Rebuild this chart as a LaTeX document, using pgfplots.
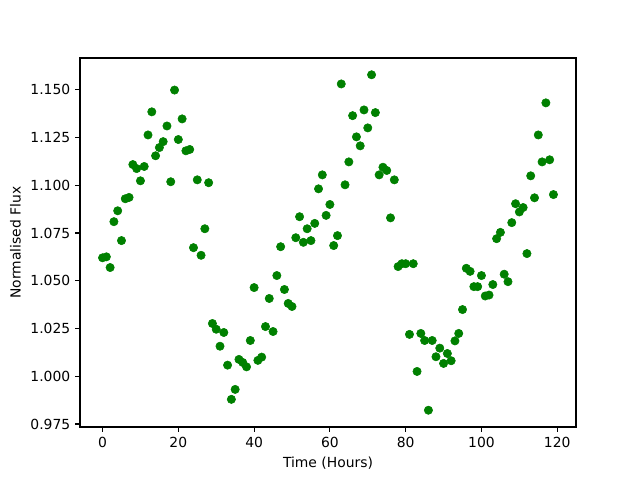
\documentclass[border=0pt]{standalone}
\usepackage{pgfplots}
\pgfplotsset{compat=1.18}
\usepackage{fontspec}
\setmainfont{DejaVu Sans}
\definecolor{mplgreen}{HTML}{008000}
\begin{document}
\begin{tikzpicture}
\begin{axis}[
  name=ax,
  scale only axis,
  width=357.12pt, height=265.68pt,
  xmin=-5.95, xmax=124.95,
  ymin=0.97342, ymax=1.16658,
  xtick={0,20,40,60,80,100,120},
  ytick={0.975,1.000,1.025,1.050,1.075,1.100,1.125,1.150},
  yticklabel style={/pgf/number format/.cd,fixed,fixed zerofill,precision=3},
  /pgf/number format/assume math mode=true,
  xtick pos=bottom, ytick pos=left,
  tick align=outside,
  major tick length=3.5pt,
  every tick/.style={black, line width=0.8pt},
  axis line style={line width=0.8pt},
  tick label style={font=\fontsize{10}{12}\selectfont},
  label style={font=\fontsize{10}{12}\selectfont},
  xlabel={Time (Hours)},
  ylabel={Normalised Flux},
  clip=false,
]
\addplot[only marks, mark=*, mark size=3pt, color=mplgreen, mark options={draw=mplgreen, fill=mplgreen}] table {
x y
0 1.0620
1 1.0625
2 1.0569
3 1.0809
4 1.0866
5 1.0710
6 1.0929
7 1.0936
8 1.1108
9 1.1087
10 1.1023
11 1.1098
12 1.1263
13 1.1384
14 1.1154
15 1.1197
16 1.1228
17 1.1310
18 1.1018
19 1.1498
20 1.1239
21 1.1347
22 1.1180
23 1.1187
24 1.0673
25 1.1028
26 1.0633
27 1.0772
28 1.1013
29 1.0276
30 1.0246
31 1.0157
32 1.0229
33 1.0058
34 0.9879
35 0.9931
36 1.0088
37 1.0072
38 1.0049
39 1.0187
40 1.0464
41 1.0083
42 1.0100
43 1.0260
44 1.0407
45 1.0234
46 1.0527
47 1.0678
48 1.0454
49 1.0381
50 1.0365
51 1.0725
52 1.0835
53 1.0701
54 1.0772
55 1.0710
56 1.0800
57 1.0981
58 1.1054
59 1.0842
60 1.0899
61 1.0684
62 1.0736
63 1.1530
64 1.1002
65 1.1122
66 1.1364
67 1.1253
68 1.1206
69 1.1394
70 1.1300
71 1.1578
72 1.1380
73 1.1054
74 1.1094
75 1.1077
76 1.0829
77 1.1028
78 1.0574
79 1.0589
80 1.0589
81 1.0219
82 1.0589
83 1.0025
84 1.0224
85 1.0187
86 0.9822
87 1.0187
88 1.0102
89 1.0147
90 1.0067
91 1.0119
92 1.0081
93 1.0185
94 1.0224
95 1.0349
96 1.0565
97 1.0549
98 1.0469
99 1.0469
100 1.0527
101 1.0420
102 1.0425
103 1.0480
104 1.0720
105 1.0753
106 1.0534
107 1.0495
108 1.0804
109 1.0903
110 1.0860
111 1.0883
112 1.0642
113 1.1049
114 1.0934
115 1.1263
116 1.1122
117 1.1431
118 1.1133
119 1.0951
};
\end{axis}
\path (ax.south west) ++(-57.6pt,-38.16pt) rectangle ([shift={(46.08pt,41.76pt)}]ax.north east);
\end{tikzpicture}
\end{document}
